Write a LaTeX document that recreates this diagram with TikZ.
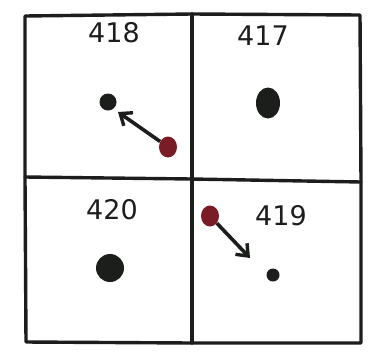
\documentclass[tikz,border=0pt]{standalone}
\usepackage{fontspec}
\setmainfont{DejaVu Sans}
\usetikzlibrary{arrows.meta,shapes.geometric}
\definecolor{ink}{RGB}{28,30,28}
\definecolor{reddot}{RGB}{122,28,38}
\tikzset{
  gridline/.style={draw=ink, line width=3.4pt, line cap=round, line join=round},
  blackdot/.style={circle, fill=ink, inner sep=0pt},
  redball/.style={ellipse, fill=reddot, inner sep=0pt, minimum width=18pt, minimum height=21pt},
  roomlabel/.style={text=ink, font=\fontsize{27}{27}\selectfont},
  movearrow/.style={draw=ink, line width=3.6pt, -{Straight Barb[length=10pt,width=16pt,line width=3.4pt]}}
}
\begin{document}
\begin{tikzpicture}[x=1pt,y=-1pt]
\useasboundingbox (0,0) rectangle (371,354);
\fill[white] (0,0) rectangle (371,354);
% grid
\draw[gridline] (25,16) -- (192,14) -- (360,15) -- (361,182) -- (361,343) -- (192,343) -- (26,342) -- (25,178) -- cycle;
\draw[gridline] (192,14) -- (192,343);
\draw[gridline] (25,177) -- (192,179) -- (361,182);
% labels
\node[roomlabel] (l418) at (114,33) {418};
\node[roomlabel] (l417) at (263,36) {417};
\node[roomlabel] (l420) at (112,210) {420};
\node[roomlabel] (l419) at (281,216) {419};
% dots
\node[blackdot, minimum size=17pt] (d418) at (108,102) {};
\node[ellipse, fill=ink, inner sep=0pt, minimum width=24pt, minimum height=31pt] (d417) at (268,103) {};
\node[blackdot, minimum size=28pt] (d420) at (110,268) {};
\node[blackdot, minimum size=13pt] (d419) at (273,275) {};
\node[redball] (r418) at (168,147) {};
\node[redball] (r419) at (210,216) {};
% arrows
\draw[movearrow] (r418) -- (118,112);
\draw[movearrow] (r419) -- (250,258);
\end{tikzpicture}
\end{document}
